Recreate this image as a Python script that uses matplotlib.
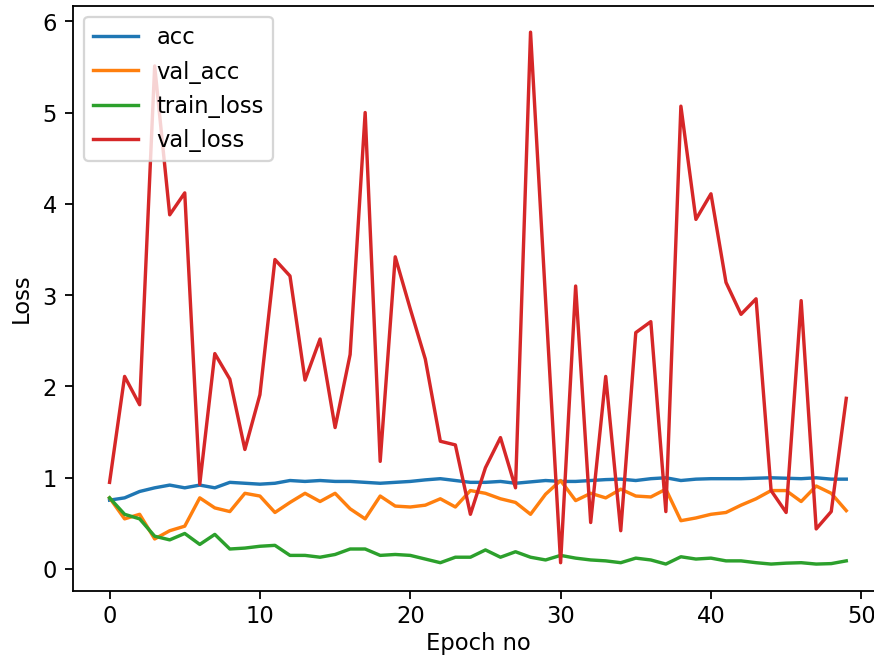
import matplotlib
matplotlib.use('Agg')
import matplotlib.pyplot as plt
import numpy as np

epochs = np.arange(50)

acc = [0.755, 0.78, 0.85, 0.89, 0.92, 0.89, 0.92, 0.89, 0.95, 0.94,
       0.93, 0.94, 0.97, 0.96, 0.97, 0.96, 0.96, 0.95, 0.94, 0.95,
       0.96, 0.977, 0.99, 0.97, 0.95, 0.95, 0.96, 0.94, 0.955, 0.97,
       0.96, 0.96, 0.97, 0.98, 0.985, 0.97, 0.99, 1.0, 0.97, 0.985,
       0.99, 0.99, 0.99, 0.995, 1.0, 0.995, 0.99, 1.0, 0.985, 0.985]

val_acc = [0.78, 0.55, 0.60, 0.33, 0.42, 0.47, 0.78, 0.67, 0.63, 0.83,
           0.80, 0.62, 0.73, 0.83, 0.74, 0.83, 0.66, 0.55, 0.80, 0.69,
           0.68, 0.70, 0.77, 0.68, 0.86, 0.83, 0.77, 0.73, 0.60, 0.82,
           0.97, 0.75, 0.83, 0.78, 0.875, 0.80, 0.79, 0.875, 0.53, 0.56,
           0.60, 0.62, 0.70, 0.77, 0.86, 0.86, 0.74, 0.91, 0.83, 0.64]

train_loss = [0.78, 0.60, 0.55, 0.36, 0.32, 0.39, 0.27, 0.38, 0.22, 0.23,
              0.25, 0.26, 0.15, 0.15, 0.13, 0.16, 0.22, 0.22, 0.15, 0.16,
              0.15, 0.11, 0.07, 0.13, 0.13, 0.21, 0.13, 0.19, 0.13, 0.10,
              0.15, 0.12, 0.10, 0.09, 0.07, 0.12, 0.10, 0.055, 0.135, 0.11,
              0.12, 0.09, 0.09, 0.07, 0.055, 0.065, 0.07, 0.055, 0.06, 0.09]

val_loss = [0.95, 2.11, 1.80, 5.51, 3.88, 4.12, 0.93, 2.36, 2.08, 1.31,
            1.91, 3.39, 3.21, 2.07, 2.52, 1.55, 2.35, 5.00, 1.18, 3.42,
            2.85, 2.30, 1.40, 1.36, 0.60, 1.11, 1.44, 0.89, 5.88, 2.95,
            0.07, 3.10, 0.51, 2.11, 0.42, 2.59, 2.71, 0.63, 5.07, 3.83,
            4.11, 3.14, 2.79, 2.96, 0.86, 0.62, 2.94, 0.44, 0.63, 1.87]

# the reference looks like a default figure blown up ~1.63x, so render at a high dpi
dpi = 163
fig = plt.figure(figsize=(874.4 / dpi, 657.4 / dpi), dpi=dpi)
# axes runs slightly past the right edge, like the cropped reference
ax = fig.add_axes([72.7 / 874, 66.3 / 657, 810 / 874, 584.7 / 657])

ax.plot(epochs, acc, label='acc')
ax.plot(epochs, val_acc, label='val_acc')
ax.plot(epochs, train_loss, label='train_loss')
ax.plot(epochs, val_loss, label='val_loss')

ax.spines['right'].set_visible(False)
ax.tick_params(axis='x', pad=2.8)
ax.set_xlabel('Epoch no', labelpad=1.5)
ax.set_ylabel('Loss', labelpad=4.5)
ax.legend(loc='upper left')

fig.savefig('out.png', dpi=dpi)
